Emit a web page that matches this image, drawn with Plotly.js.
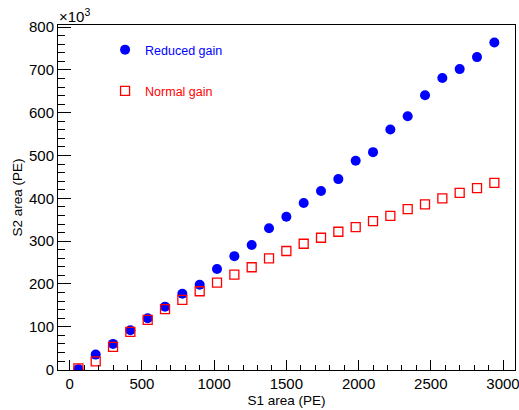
<!DOCTYPE html>
<html>
<head>
<meta charset="utf-8">
<script src="https://cdn.plot.ly/plotly-3.0.1.min.js"></script>
<style>html,body{margin:0;padding:0;background:#fff;}#chart{width:519px;height:410px;}</style>
</head>
<body>
<div id="chart"></div>
<script>
const s1Area = [60, 180, 300, 420, 540, 660, 780, 900, 1020, 1140, 1260, 1380, 1500, 1620, 1740, 1860, 1980, 2100, 2220, 2340, 2460, 2580, 2700, 2820, 2940];
const reducedGain = [1, 35, 60, 92, 120, 147, 177, 198, 235, 265, 291, 330, 357, 389, 417, 445, 488, 508, 561, 592, 641, 681, 702, 730, 764];
const normalGain = [3, 19, 53, 88, 116, 141, 163, 183, 203, 222, 239, 260, 277, 294, 308, 322, 333, 347, 359, 375, 386, 400, 413, 424, 436];
const seriesNames = ['Reduced gain', 'Normal gain'];
const yTickVals = [0, 100, 200, 300, 400, 500, 600, 700, 800];
const xTickVals = [0, 500, 1000, 1500, 2000, 2500, 3000];

const font = 'Liberation Sans, Arial, Helvetica, sans-serif';

const traces = [
  {
    x: s1Area, y: reducedGain, type: 'scatter', mode: 'markers',
    name: '<span style="color:#0000ff">' + seriesNames[0] + '</span>',
    legendgroup: 'a',
    marker: {symbol: 'circle', size: 10, color: '#0000ff', line: {width: 0}}
  },
  {
    x: s1Area, y: normalGain, type: 'scatter', mode: 'markers',
    name: '<span style="color:#ff0000">' + seriesNames[1] + '</span>',
    legendgroup: 'b',
    marker: {symbol: 'square-open', size: 9, color: '#ff0000', line: {width: 1.3, color: '#ff0000'}}
  }
];

const layout = {
  width: 519, height: 410,
  margin: {l: 58, r: 4, t: 25, b: 40, pad: 0},
  paper_bgcolor: '#fff', plot_bgcolor: '#fff',
  font: {family: font, color: '#000', size: 15},
  showlegend: true,
  legend: {
    x: 0.103, y: 0.971, xanchor: 'left', yanchor: 'top',
    bgcolor: 'rgba(0,0,0,0)', borderwidth: 0,
    font: {family: font, size: 12.5},
    tracegroupgap: 22, itemwidth: 30, traceorder: 'grouped'
  },
  xaxis: {
    range: [-81, 3083], showgrid: false, zeroline: false,
    showline: true, linecolor: '#000', linewidth: 1, mirror: true,
    ticks: 'inside', ticklen: 10, tickcolor: '#000', tickwidth: 1,
    tickvals: xTickVals, ticktext: xTickVals.map(String),
    tickfont: {family: font, size: 15, color: '#000'},
    ticklabeloverflow: 'allow',
    minor: {dtick: 100, ticks: 'inside', ticklen: 5, tickcolor: '#000', tickwidth: 1, showgrid: false},
    title: {text: 'S1 area (PE)', font: {family: font, size: 13.5, color: '#000'}, standoff: 4},
    automargin: false
  },
  yaxis: {
    range: [-1, 805], showgrid: false, zeroline: false,
    showline: true, linecolor: '#000', linewidth: 1, mirror: true,
    ticks: 'inside', ticklen: 13, tickcolor: '#000', tickwidth: 1,
    tickvals: yTickVals, ticktext: yTickVals.map(String),
    tickfont: {family: font, size: 15, color: '#000'},
    minor: {dtick: 20, ticks: 'inside', ticklen: 7, tickcolor: '#000', tickwidth: 1, showgrid: false},
    title: {text: 'S2 area (PE)', font: {family: font, size: 13.5, color: '#000'}, standoff: 3},
    automargin: false
  },
  annotations: [
    {xref: 'paper', yref: 'paper', x: -0.003, y: 1.0, xanchor: 'left', yanchor: 'bottom',
     text: '×10<sup>3</sup>', showarrow: false, font: {family: font, size: 15, color: '#000'}, yshift: -2}
  ]
};

Plotly.newPlot('chart', traces, layout, {displayModeBar: false, staticPlot: true});
</script>
</body>
</html>
